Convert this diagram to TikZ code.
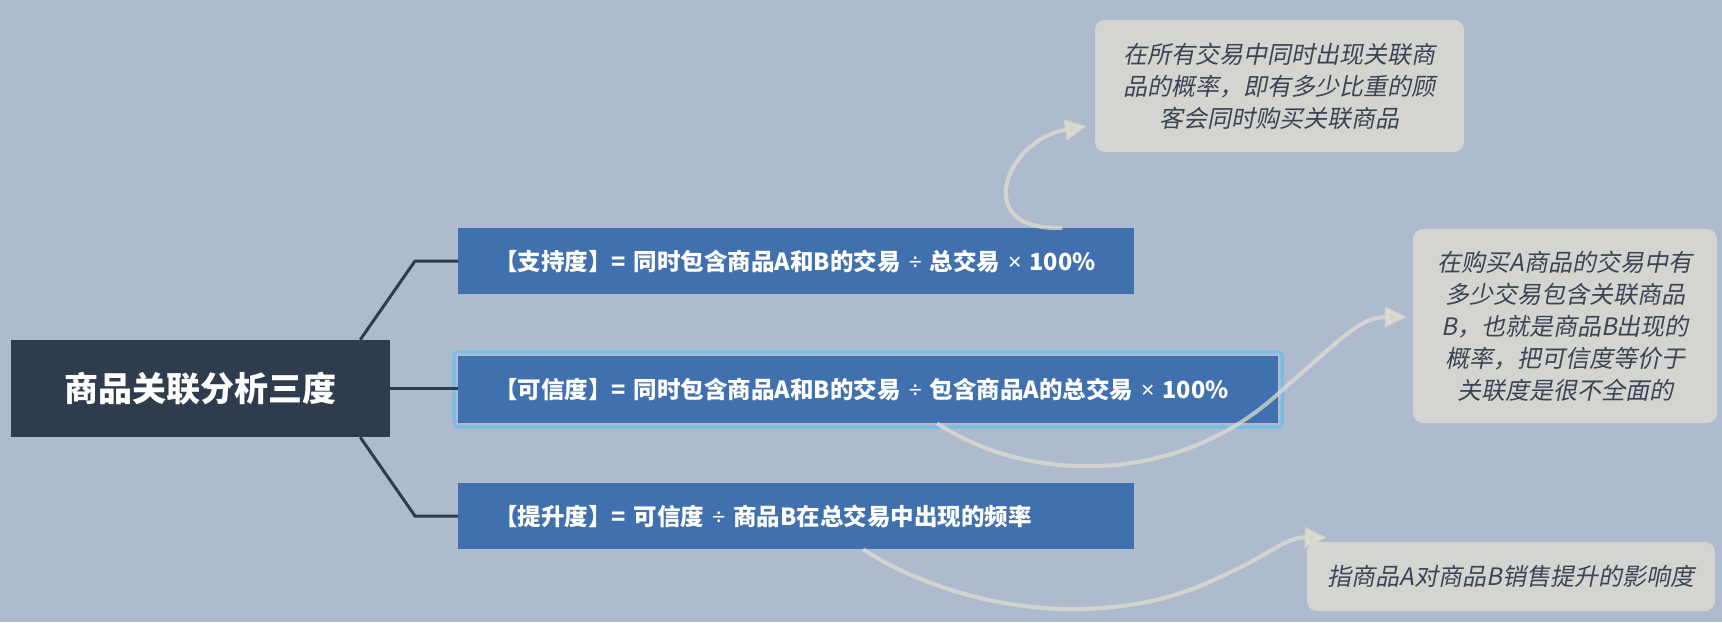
\documentclass[tikz,border=0pt]{standalone}
\usepackage{fontspec}
\setmainfont{Noto Sans CJK SC}
\newfontfamily\cjkit[FakeSlant=0.2]{Noto Sans CJK SC}
\newfontfamily\lat{Noto Sans}
\usetikzlibrary{arrows.meta,calc}
\definecolor{bgc}{HTML}{AEBBCF}
\definecolor{rootc}{HTML}{2F3C4E}
\definecolor{topicc}{HTML}{4071AE}
\definecolor{selc}{HTML}{74BDE8}
\definecolor{notec}{HTML}{D4D5D0}
\definecolor{notetext}{HTML}{3A4454}
\definecolor{linec}{HTML}{2F3C4E}
\definecolor{arrowc}{HTML}{E4E0CF}
\newcommand{\dv}{{\lat ÷}}
\newcommand{\tm}{{\lat ×}}
\begin{document}
\begin{tikzpicture}[x=1pt,y=-1pt,
  rootbox/.style={fill=rootc, text=white, font=\fontsize{34}{40}\selectfont\bfseries, minimum width=379pt, minimum height=97pt, inner sep=0pt},
  topic/.style={fill=topicc, text=white, font=\fontsize{23.5}{28}\selectfont\bfseries, anchor=west, inner xsep=36pt, inner ysep=0pt, align=left},
  note/.style={fill=notec, text=notetext, rounded corners=10pt, font=\cjkit\fontsize{24}{32}\selectfont, align=center, inner sep=0pt},
  branch/.style={draw=linec, line width=3pt},
  callout/.style={draw=arrowc, opacity=0.7, line width=4pt, -{Triangle[length=22pt,width=20pt]}}
]
\useasboundingbox[fill=bgc] (0,0) rectangle (1722,622);

\node[rootbox] (root) at (200.5,388.5) {商品关联分析三度};

\node[topic, text width=604pt, minimum height=66pt] (box1) at (458,261) {\mbox{【支持度】= 同时包含商品A和B的交易 \dv{} 总交易 \tm{} 100\%}};
\node[topic, text width=748pt, minimum height=67pt] (box2) at (458,389.5) {\mbox{【可信度】= 同时包含商品A和B的交易 \dv{} 包含商品A的总交易 \tm{} 100\%}};
\node[topic, text width=604pt, minimum height=66pt] (box3) at (458,516) {\mbox{【提升度】= 可信度 \dv{} 商品B在总交易中出现的频率}};

\draw[selc, line width=3pt, rounded corners=4pt] ($(box2.north west)+(-4,-4)$) rectangle ($(box2.south east)+(4,4)$);

\draw[branch] ([xshift=-30pt]root.north east) -- ([xshift=-43pt]box1.west) -- (box1.west);
\draw[branch] (root.east) -- (root.east -| box2.west);
\draw[branch] ([xshift=-30pt]root.south east) -- ([xshift=-43pt]box3.west) -- (box3.west);

\node[note, minimum width=369pt, minimum height=132pt] (note1) at (1279.5,86) {在所有交易中同时出现关联商\\品的概率，即有多少比重的顾\\客会同时购买关联商品};
\node[note, minimum width=304pt, minimum height=194pt] (note2) at (1565,326) {在购买A商品的交易中有\\多少交易包含关联商品\\B，也就是商品B出现的\\概率，把可信度等价于\\关联度是很不全面的};
\node[note, minimum width=408pt, minimum height=69pt] (note3) at (1511,576.5) {指商品A对商品B销售提升的影响度};

\coordinate (t1) at ($(note1.south west)+(-8,-26)$);
\coordinate (t2) at ($(note2.west)+(-6,-9)$);
\coordinate (t3) at ($(note3.north west)+(20,-4)$);

\draw[callout] ([xshift=-72pt]box1.north east) .. controls (970,232) and (1005,140) .. (t1);
\draw[callout] ([xshift=479pt]box2.south west) .. controls (1030,485) and (1180,485) .. (1280,392) .. controls (1340,340) and (1360,317) .. (t2);
\draw[callout] ([xshift=405pt]box3.south west) .. controls (960,612) and (1110,632) .. (1220,577) .. controls (1270,555) and (1285,537) .. (t3);
\end{tikzpicture}
\end{document}
